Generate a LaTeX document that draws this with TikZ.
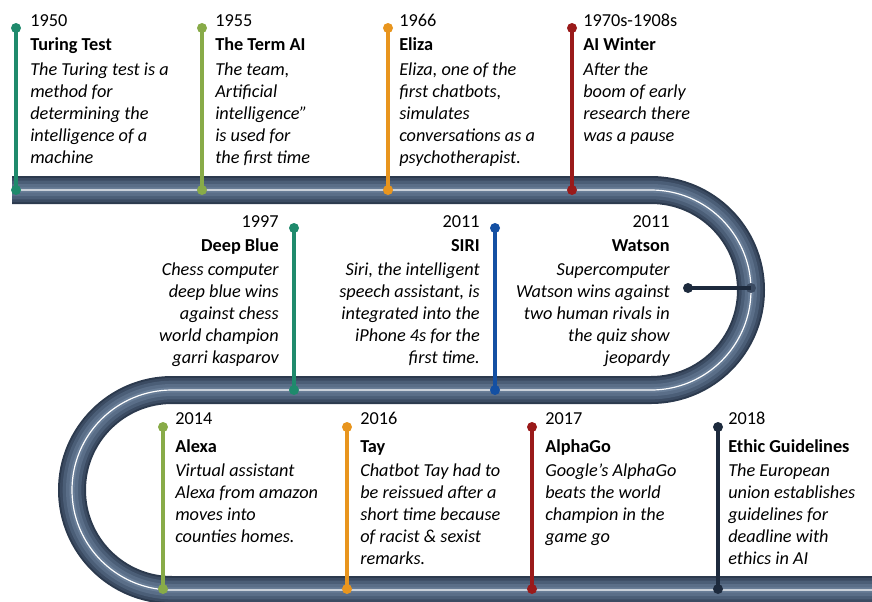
\documentclass[tikz,border=0pt]{standalone}
\usepackage{fontspec}
\setmainfont{Carlito}
\definecolor{cteal}{HTML}{1F8A6C}
\definecolor{colive}{HTML}{88AB48}
\definecolor{corange}{HTML}{E8951E}
\definecolor{cred}{HTML}{9A1A1A}
\definecolor{cblue}{HTML}{1450A3}
\definecolor{cnavy}{HTML}{1D2A3D}
\definecolor{roada}{HTML}{2C3A4E}
\definecolor{roadb}{HTML}{3B4B62}
\definecolor{roadc}{HTML}{4B5E77}
\definecolor{roadd}{HTML}{5A6E88}
\definecolor{roade}{HTML}{687D97}
\begin{document}
\begin{tikzpicture}[x=0.75pt,y=-0.75pt,
  dot/.style={circle,fill=#1,inner sep=0pt,minimum size=7.5pt},
  stem/.style={draw=#1,line width=3pt},
  yr/.style={font=\fontsize{13.7}{16.5}\selectfont,inner sep=0pt},
  ttl/.style={font=\fontsize{13.7}{16.5}\selectfont\bfseries,inner sep=0pt},
  body/.style={font=\fontsize{13.7}{16.5}\selectfont\itshape,inner sep=0pt}]
\useasboundingbox (0,0) rectangle (872,601);
% road
\def\roadpath{(12,190) -- (651,190) arc[start angle=-90,end angle=90,radius=100] -- (172,390) arc[start angle=-90,end angle=-270,radius=100] -- (872,590)}
\draw[line width=21pt,roada] \roadpath;
\draw[line width=18pt,roadb] \roadpath;
\draw[line width=14pt,roadc] \roadpath;
\draw[line width=9pt,roadd] \roadpath;
\draw[line width=4pt,roade] \roadpath;
\draw[line width=0.9pt,white] \roadpath;

% ---------- top row ----------
\node[dot=cteal] (d1a) at (16,28) {};
\node[dot=cteal] (d1b) at (16,190) {};
\draw[stem=cteal] (d1a.center) -- (d1b.center);
\node[yr,anchor=base west] (y1) at (30,26) {1950};
\node[ttl,anchor=base west] (t1) at (30,50) {Turing Test};
\node[body,anchor=north west,align=left] (b1) at (30,59.6) {\strut The Turing test is a\\method for\\determining the\\intelligence of a\\machine};

\node[dot=colive] (d2a) at (202,28) {};
\node[dot=colive] (d2b) at (202,190) {};
\draw[stem=colive] (d2a.center) -- (d2b.center);
\node[yr,anchor=base west] (y2) at (215,26) {1955};
\node[ttl,anchor=base west] (t2) at (215,50) {The Term AI};
\node[body,anchor=north west,align=left] (b2) at (215,59.6) {\strut The team,\\Artificial\\intelligence”\\is used for\\the first time};

\node[dot=corange] (d3a) at (388,28) {};
\node[dot=corange] (d3b) at (388,190) {};
\draw[stem=corange] (d3a.center) -- (d3b.center);
\node[yr,anchor=base west] (y3) at (399,26) {1966};
\node[ttl,anchor=base west] (t3) at (399,50) {Eliza};
\node[body,anchor=north west,align=left] (b3) at (399,59.6) {\strut Eliza, one of the\\first chatbots,\\simulates\\conversations as a\\psychotherapist.};

\node[dot=cred] (d4a) at (572,28) {};
\node[dot=cred] (d4b) at (572,190) {};
\draw[stem=cred] (d4a.center) -- (d4b.center);
\node[yr,anchor=base west] (y4) at (583,26) {1970s-1908s};
\node[ttl,anchor=base west] (t4) at (583,50) {AI Winter};
\node[body,anchor=north west,align=left] (b4) at (583,59.6) {\strut After the\\boom of early\\research there\\was a pause};

% ---------- middle row ----------
\node[dot=cteal] (d5a) at (294,228) {};
\node[dot=cteal] (d5b) at (294,390) {};
\draw[stem=cteal] (d5a.center) -- (d5b.center);
\node[yr,anchor=base east] (y5) at (279,227) {1997};
\node[ttl,anchor=base east] (t5) at (279,251) {Deep Blue};
\node[body,anchor=north east,align=right] (b5) at (279,259.6) {\strut Chess computer\\deep blue wins\\against chess\\world champion\\garri kasparov};

\node[dot=cblue] (d6a) at (495,228) {};
\node[dot=cblue] (d6b) at (495,390) {};
\draw[stem=cblue] (d6a.center) -- (d6b.center);
\node[yr,anchor=base east] (y6) at (480,227) {2011};
\node[ttl,anchor=base east] (t6) at (480,251) {SIRI};
\node[body,anchor=north east,align=right] (b6) at (480,259.6) {\strut Siri, the intelligent\\speech assistant, is\\integrated into the\\iPhone 4s for the\\first time.};

\node[dot=cnavy] (d7a) at (688,288) {};
\node[dot=roadb] (d7b) at (751,288) {};
\draw[stem=cnavy] (d7a.center) -- (d7b.center);
\node[yr,anchor=base east] (y7) at (670,227) {2011};
\node[ttl,anchor=base east] (t7) at (670,251) {Watson};
\node[body,anchor=north east,align=right] (b7) at (670,259.6) {\strut Supercomputer\\Watson wins against\\two human rivals in\\the quiz show\\jeopardy};

% ---------- bottom row ----------
\node[dot=colive] (d8a) at (163,427) {};
\node[dot=colive] (d8b) at (163,589) {};
\draw[stem=colive] (d8a.center) -- (d8b.center);
\node[yr,anchor=base west] (y8) at (175,424) {2014};
\node[ttl,anchor=base west] (t8) at (175,452) {Alexa};
\node[body,anchor=north west,align=left] (b8) at (175,460.6) {\strut Virtual assistant\\Alexa from amazon\\moves into\\counties homes.};

\node[dot=corange] (d9a) at (347,427) {};
\node[dot=corange] (d9b) at (347,589) {};
\draw[stem=corange] (d9a.center) -- (d9b.center);
\node[yr,anchor=base west] (y9) at (360,424) {2016};
\node[ttl,anchor=base west] (t9) at (360,452) {Tay};
\node[body,anchor=north west,align=left] (b9) at (360,460.6) {\strut Chatbot Tay had to\\be reissued after a\\short time because\\of racist \& sexist\\remarks.};

\node[dot=cred] (d10a) at (532,427) {};
\node[dot=cred] (d10b) at (532,589) {};
\draw[stem=cred] (d10a.center) -- (d10b.center);
\node[yr,anchor=base west] (y10) at (545,424) {2017};
\node[ttl,anchor=base west] (t10) at (545,452) {AlphaGo};
\node[body,anchor=north west,align=left] (b10) at (545,460.6) {\strut Google’s AlphaGo\\beats the world\\champion in the\\game go};

\node[dot=cnavy] (d11a) at (718,427) {};
\node[dot=cnavy] (d11b) at (718,589) {};
\draw[stem=cnavy] (d11a.center) -- (d11b.center);
\node[yr,anchor=base west] (y11) at (728,424) {2018};
\node[ttl,anchor=base west] (t11) at (728,452) {Ethic Guidelines};
\node[body,anchor=north west,align=left] (b11) at (728,460.6) {\strut The European\\union establishes\\guidelines for\\deadline with\\ethics in AI};
\end{tikzpicture}
\end{document}
